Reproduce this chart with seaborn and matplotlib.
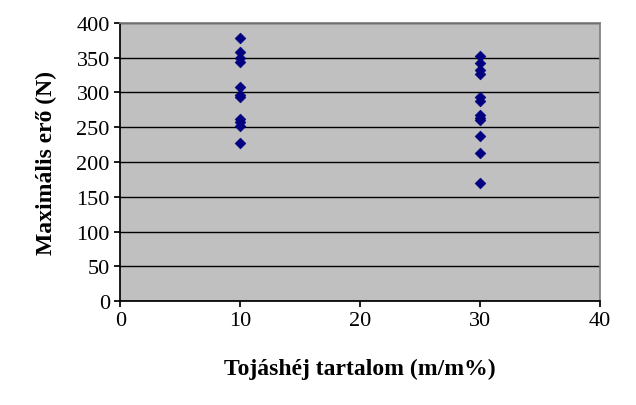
import matplotlib
matplotlib.use('Agg')
import matplotlib.pyplot as plt
import seaborn as sns
import pandas as pd

# Adatok
x_10 = [10] * 11
y_10 = [379, 358, 350, 344, 308, 297, 293, 262, 258, 252, 228]
x_30 = [30] * 12
y_30 = [352, 343, 332, 327, 293, 288, 268, 264, 260, 237, 213, 170]

df = pd.DataFrame({'x': x_10 + x_30, 'y': y_10 + y_30})

sns.set_theme(style='white')
plt.rcParams['font.family'] = 'Liberation Serif'

fig = plt.figure(figsize=(6.36, 4.06), dpi=100)
ax = fig.add_axes([0.189, 0.256, 0.754, 0.685])
ax.set_facecolor('#c0c0c0')
sns.scatterplot(data=df, x='x', y='y', marker='D', s=30, color='#000080',
                edgecolor='#000080', ax=ax, zorder=3)

ax.set_xlim(0, 40)
ax.set_ylim(0, 400)
ax.set_xticks([0, 10, 20, 30, 40])
ax.set_yticks(range(0, 401, 50))
ax.yaxis.grid(True, color='black', linewidth=1)
ax.set_axisbelow(True)
for s in ax.spines.values():
    s.set_color('#808080')
ax.spines['left'].set_color('black')
ax.spines['bottom'].set_color('black')
ax.tick_params(axis='both', labelsize=16, colors='black', direction='out',
               length=4, left=True, bottom=True)
ax.set_xlabel('Tojáshéj tartalom (m/m%)', fontsize=17, fontweight='bold',
              labelpad=20, color='black')
ax.set_ylabel('Maximális erő (N)', fontsize=17, fontweight='bold',
              labelpad=14, color='black')

fig.savefig('out.png', dpi=100, facecolor='white')
